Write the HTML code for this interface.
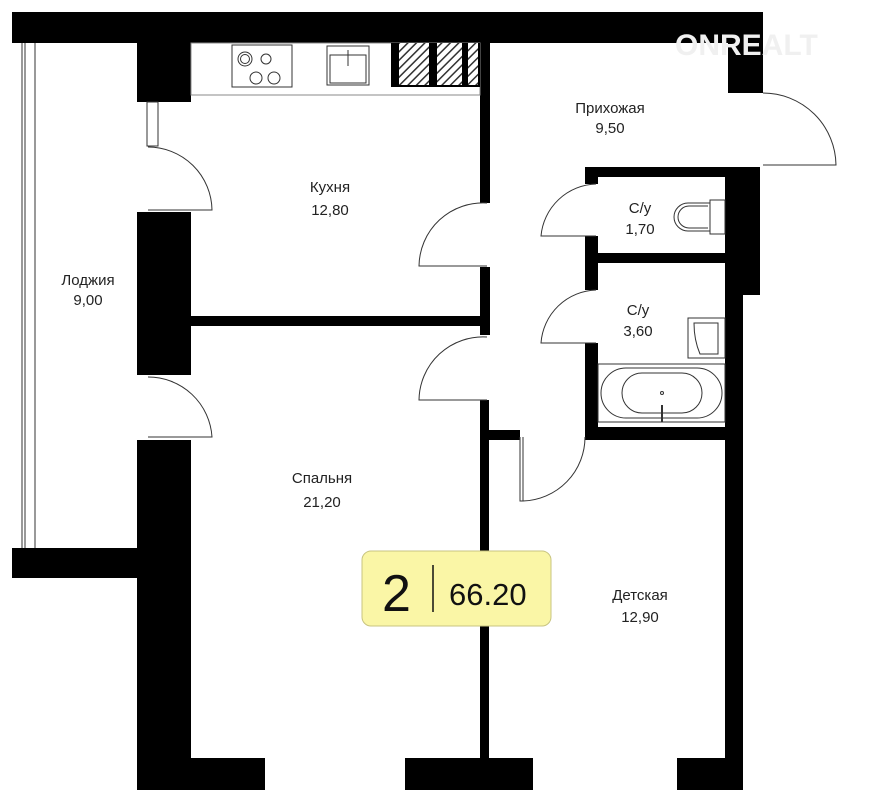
<!DOCTYPE html>
<html><head><meta charset="utf-8"><style>
html,body{margin:0;padding:0;background:#fff;}
svg{display:block}
text{font-family:"Liberation Sans",sans-serif;}
</style></head><body>
<svg width="879" height="790" viewBox="0 0 879 790" xmlns="http://www.w3.org/2000/svg">
<defs>
<pattern id="h" width="6" height="6" patternUnits="userSpaceOnUse" patternTransform="rotate(45)">
<rect width="6" height="6" fill="#fff"/><rect width="1.5" height="6" fill="#333"/>
</pattern>
</defs>
<g fill="#000">
<rect x="12" y="12" width="751" height="31"/>
<rect x="728" y="12" width="35" height="81"/>
<rect x="12" y="548" width="126" height="30"/>
<rect x="137" y="43" width="54" height="59"/>
<rect x="137" y="212" width="54" height="163"/>
<rect x="137" y="440" width="54" height="350"/>
<rect x="190" y="316" width="290" height="10"/>
<rect x="480" y="43" width="10" height="160"/>
<rect x="480" y="267" width="10" height="68"/>
<rect x="480" y="400" width="9" height="390"/>
<rect x="489" y="430" width="31" height="10"/>
<rect x="585" y="167" width="175" height="10"/>
<rect x="585" y="167" width="13" height="17"/>
<rect x="585" y="236" width="13" height="54"/>
<rect x="585" y="253" width="140" height="10"/>
<rect x="585" y="343" width="13" height="97"/>
<rect x="585" y="427" width="140" height="13"/>
<rect x="725" y="167" width="35" height="128"/>
<rect x="725" y="295" width="18" height="495"/>
<rect x="137" y="758" width="128" height="32"/>
<rect x="405" y="758" width="128" height="32"/>
<rect x="677" y="758" width="66" height="32"/>
</g>
<rect x="191" y="43" width="289" height="52" fill="none" stroke="#888" stroke-width="1"/>
<rect x="391" y="43" width="89" height="44" fill="#000"/>
<rect x="399" y="43" width="30" height="42" fill="url(#h)"/>
<rect x="437" y="43" width="25" height="42" fill="url(#h)"/>
<rect x="468" y="43" width="10" height="42" fill="url(#h)"/>
<g fill="none" stroke="#333" stroke-width="1">
<rect x="232" y="45" width="60" height="42"/>
<circle cx="245" cy="59" r="7"/><circle cx="245" cy="59" r="4.5"/>
<circle cx="266" cy="59" r="5"/><circle cx="256" cy="78" r="6"/><circle cx="274" cy="78" r="6"/>
<rect x="327" y="46" width="42" height="39"/><rect x="330" y="55" width="36" height="28"/>
<line x1="348" y1="50" x2="348" y2="66"/>
<line x1="22" y1="43" x2="22" y2="548"/><line x1="25" y1="43" x2="25" y2="548"/><line x1="35" y1="43" x2="35" y2="548"/>
<rect x="147" y="102" width="11" height="44"/>
<path d="M148 147 A64 64 0 0 1 212 210 L148 210"/>
<path d="M148 377 A64 64 0 0 1 212 437 L148 437"/>
<path d="M487 203 A64 64 0 0 0 419 266 L487 266"/>
<path d="M487 337 A64 64 0 0 0 419 400 L487 400"/>
<path d="M763 93 A73 73 0 0 1 836 165 L763 165"/>
<path d="M596 184 A57 57 0 0 0 541 236 L596 236"/>
<path d="M596 290 A57 57 0 0 0 541 343 L596 343"/>
<path d="M520 437 L520 501 L523 501 L523 437"/>
<path d="M523 501 A64 64 0 0 0 585 437"/>
<path d="M710 203 L688 203 A14 14 0 0 0 688 231 L710 231"/>
<path d="M708 206 L689 206 A11 11 0 0 0 689 228 L708 228"/>
<rect x="710" y="200" width="15" height="34"/>
<rect x="688" y="318" width="37" height="40"/>
<path d="M694 323 L718 323 L718 354 L700 354 Q694 340 694 323Z"/>
<rect x="598" y="364" width="127" height="58"/>
<rect x="601" y="368" width="121" height="50" rx="25"/>
<rect x="622" y="373" width="80" height="40" rx="20"/>
</g>
<circle cx="662" cy="393" r="1.5" fill="none" stroke="#333"/>
<line x1="662" y1="405" x2="662" y2="422" stroke="#333" stroke-width="2"/>
<rect x="362" y="551" width="189" height="75" rx="9" fill="#faf6a6" stroke="#c8c480" stroke-width="1"/>
<text x="382" y="611" font-size="52" style="fill:#111">2</text>
<line x1="433" y1="565" x2="433" y2="612" stroke="#111" stroke-width="1.5"/>
<text x="449" y="605" font-size="31" style="fill:#111">66.20</text>
<g font-size="15" text-anchor="middle" style="fill:#222">
<text x="330" y="192">Кухня</text><text x="330" y="215">12,80</text>
<text x="88" y="285">Лоджия</text><text x="88" y="305">9,00</text>
<text x="610" y="113">Прихожая</text><text x="610" y="133">9,50</text>
<text x="640" y="213">С/у</text><text x="640" y="234">1,70</text>
<text x="638" y="315">С/у</text><text x="638" y="336">3,60</text>
<text x="322" y="483">Спальня</text><text x="322" y="507">21,20</text>
<text x="640" y="600">Детская</text><text x="640" y="622">12,90</text>
</g>
<text x="675" y="55" font-size="30" font-weight="bold" style="fill:#f0f0f0">ONREALT</text>
</svg>
</body></html>
